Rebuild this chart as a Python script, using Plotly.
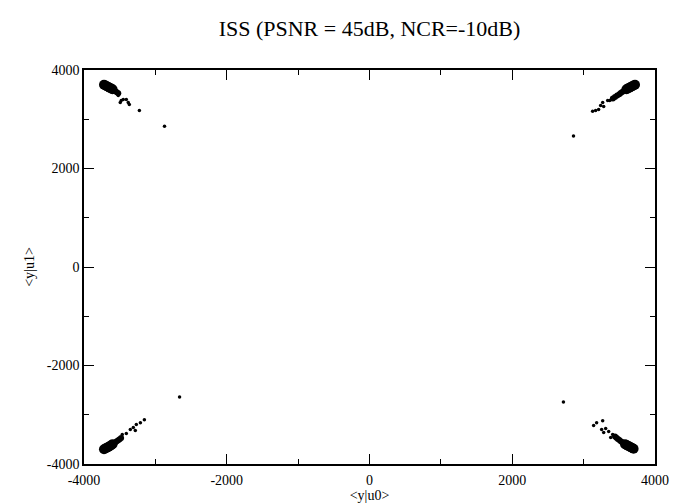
import plotly.graph_objects as go

# Dense cluster cores (data units)
core_x = [-3720, -3700, -3680, -3660, -3640, -3620, -3600,
          3720, 3700, 3680, 3660, 3640, 3620, 3600,
          -3720, -3700, -3680, -3660, -3640, -3620, -3600,
          3700, 3680, 3660, 3640, 3620, 3600, 3580]
core_y = [3700, 3685, 3670, 3655, 3640, 3625, 3610,
          3700, 3685, 3670, 3655, 3640, 3625, 3610,
          -3700, -3685, -3670, -3655, -3640, -3620, -3600,
          -3690, -3675, -3660, -3645, -3630, -3615, -3600]

# Tapering tails of the clusters
tail_x = [-3580, -3560, -3540, -3520,
          3580, 3560, 3540, 3520, 3500, 3470, 3440, 3410,
          -3580, -3560, -3540, -3520, -3500, -3480,
          3560, 3540, 3520, 3500, 3480, 3460, 3440]
tail_y = [3590, 3570, 3550, 3530,
          3595, 3575, 3555, 3535, 3510, 3480, 3450, 3420,
          -3580, -3560, -3540, -3520, -3495, -3470,
          -3580, -3560, -3540, -3515, -3490, -3465, -3440]

# Scattered individual points
pts_x = [-3520, -3478, -3450, -3407, -3380, -3365, -3492, -3224, -2872,
         3267, 3238, 3210, 3168, 3126, 3281, 3337, 3365, 3390, 2858,
         -3464, -3407, -3351, -3309, -3281, -3267, -3210, -3154, -2661,
         3140, 3182, 3267, 3252, 3281, 3309, 3351, 3379, 3407, 2717]
pts_y = [3480, 3380, 3400, 3400, 3340, 3300, 3340, 3180, 2860,
         3340, 3280, 3200, 3180, 3160, 3260, 3380, 3380, 3400, 2660,
         -3400, -3380, -3300, -3260, -3320, -3200, -3160, -3100, -2640,
         -3220, -3160, -3120, -3300, -3360, -3280, -3340, -3460, -3400, -2740]

x_ticks = [-4000, -2000, 0, 2000, 4000]
y_ticks = [-4000, -2000, 0, 2000, 4000]

fig = go.Figure()
fig.add_trace(go.Scatter(x=core_x, y=core_y, mode="markers",
                         marker=dict(color="black", size=10), hoverinfo="skip"))
fig.add_trace(go.Scatter(x=tail_x, y=tail_y, mode="markers",
                         marker=dict(color="black", size=6), hoverinfo="skip"))
fig.add_trace(go.Scatter(x=pts_x, y=pts_y, mode="markers",
                         marker=dict(color="black", size=3.5), hoverinfo="skip"))

font = "Liberation Serif, Times New Roman, serif"
axis_common = dict(
    showgrid=False, zeroline=False, showline=True, linecolor="black", linewidth=1.5,
    mirror="allticks", ticks="inside", ticklen=10, tickwidth=1, tickcolor="black",
    tickfont=dict(family=font, size=14, color="black"),
    minor=dict(ticks="inside", ticklen=5, tickwidth=1, tickcolor="black", dtick=1000),
)
fig.update_xaxes(range=[-4000, 4000], tickvals=x_ticks, ticktext=[str(v) for v in x_ticks],
                 ticklabelstandoff=2,
                 title=dict(text="&lt;y|u0&gt;", font=dict(family=font, size=14, color="black"), standoff=3),
                 **axis_common)
fig.update_yaxes(range=[-4000, 4000], tickvals=y_ticks, ticktext=[str(v) for v in y_ticks],
                 ticklabelstandoff=0,
                 title=dict(text="&lt;y|u1&gt;", font=dict(family=font, size=14, color="black"), standoff=9),
                 **axis_common)
fig.update_layout(
    width=691, height=504,
    margin=dict(l=76, r=44, t=62, b=42),
    paper_bgcolor="white", plot_bgcolor="white",
    showlegend=False,
    title=dict(text="ISS (PSNR = 45dB, NCR=-10dB)", x=(76 + 647) / 2 / 691, xanchor="center",
               y=0.96, yanchor="middle",
               font=dict(family=font, size=22, color="black")),
)
fig.write_html("out.html")
